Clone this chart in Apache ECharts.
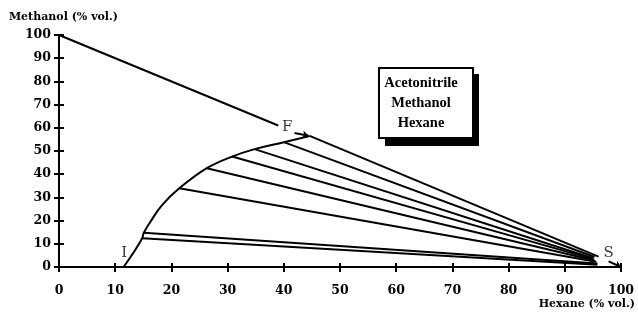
<!DOCTYPE html>
<html><head><meta charset="utf-8">
<script src="https://cdn.jsdelivr.net/npm/echarts@6/dist/echarts.min.js"></script>
<style>html,body{margin:0;padding:0;background:#fff}#c{width:638px;height:312px}</style>
</head><body><div id="c"></div>
<script>
// Tick labels
const xTicks = [0,10,20,30,40,50,60,70,80,90,100];
const yTicks = [0,10,20,30,40,50,60,70,80,90,100];
// Upper edge of the diagram (Methanol-Hexane side), from pure methanol to F
const edgeHexane = [0, 39];
const edgeMethanol = [100, 61];
// Binodal curve (hexane %, methanol %)
const curveHexane   = [11.5, 13.2, 14.8, 15.1, 16.4, 18.3, 21.4, 26.3, 30.8, 34.8, 40.0, 44.6];
const curveMethanol = [0,    6,    12.4, 14.8, 20.0, 26.6, 33.9, 42.6, 47.6, 50.8, 53.8, 56.5];
// Tie lines: start on the curve, end near S
const tieStartHexane   = [14.8, 15.1, 21.4, 26.3, 30.8, 34.8, 40.0, 44.6];
const tieStartMethanol = [12.4, 14.8, 33.9, 42.6, 47.6, 50.8, 53.8, 56.5];
const tieEndHexane     = [95.8, 95.8, 95.6, 95.3, 95.2, 95.0, 95.3, 96.0];
const tieEndMethanol   = [1.0,  1.5,  2.3,  2.8,  3.3,  3.8,  4.3,  4.5];
// Arrows pointing at F and S
const arrowFromHexane = [41.9, 97.8];
const arrowFromMethanol = [57.8, 2.4];
const arrowToHexane = [44.4, 100];
const arrowToMethanol = [56.6, 0];
// Point labels
const pointNames = ['I', 'F', 'S'];
const pointHexane = [11.6, 40.6, 97.8];
const pointMethanol = [6.0, 60.3, 6.0];
const boxLines = ['Acetonitrile', 'Methanol', 'Hexane'];

const serif = '"DejaVu Serif", "Liberation Serif", serif';
const serif2 = '"Liberation Serif", "DejaVu Serif", serif';
const black = '#000';
const lineStyle = {color: black, width: 2};

const series = [];
series.push({type:'line', data: edgeHexane.map((x,i)=>[x, edgeMethanol[i]]), symbol:'none', lineStyle, silent:true});
series.push({type:'line', data: curveHexane.map((x,i)=>[x, curveMethanol[i]]), symbol:'none', smooth:0.4, lineStyle, silent:true});
tieStartHexane.forEach((x,i)=>{
  series.push({type:'line', data:[[x, tieStartMethanol[i]],[tieEndHexane[i], tieEndMethanol[i]]], symbol:'none', lineStyle:{color:black,width:2}, silent:true});
});
series.push({type:'lines', coordinateSystem:'cartesian2d', symbol:['none','arrow'], symbolSize:6,
  lineStyle:{color:black, width:2, opacity:1},
  data: arrowFromHexane.map((x,i)=>({coords:[[x, arrowFromMethanol[i]],[arrowToHexane[i], arrowToMethanol[i]]]})), silent:true});
series.push({type:'scatter', symbolSize:0, silent:true,
  data: pointNames.map((n,i)=>({value:[pointHexane[i], pointMethanol[i]], name:n})),
  label:{show:true, position:'inside', formatter:p=>p.name, fontFamily:serif, fontSize:15, color:black,
    fontWeight: 'normal'}});

const axisCommon = {min:0, max:100, interval:10, splitLine:{show:false}};
const chart = echarts.init(document.getElementById('c'), null, {renderer:'canvas'});
chart.setOption({
  animation:false,
  backgroundColor:'#fff',
  grid:{left:59, right:10, top:35, bottom:45, containLabel:false},
  xAxis:[
    Object.assign({type:'value', position:'bottom',
      name:'Hexane (% vol.)', nameLocation:'end', nameGap:14,
      nameTextStyle:{fontFamily:serif, fontWeight:'bold', fontSize:11, color:black, align:'right', verticalAlign:'top', padding:[32,0,0,0]},
      axisLine:{show:true, lineStyle:{color:black, width:2}},
      axisTick:{show:true, length:5, lineStyle:{color:black, width:2}},
      axisLabel:{margin:17, fontFamily:serif, fontWeight:'bold', fontSize:12.5, color:black,
        formatter:v=>xTicks.includes(v)?String(v):''}
    }, axisCommon),
    Object.assign({type:'value', position:'bottom', axisLine:{show:false},
      axisTick:{show:true, inside:true, length:4, lineStyle:{color:black, width:2}}, axisLabel:{show:false}}, axisCommon)
  ],
  yAxis:[
    Object.assign({type:'value', position:'left',
      name:'Methanol (% vol.)', nameLocation:'end', nameGap:12,
      nameTextStyle:{fontFamily:serif, fontWeight:'bold', fontSize:11, color:black, align:'center', padding:[0,0,0,9]},
      axisLine:{show:true, lineStyle:{color:black, width:2}},
      axisTick:{show:true, length:5, lineStyle:{color:black, width:2}},
      axisLabel:{margin:8, fontFamily:serif, fontWeight:'bold', fontSize:12.5, color:black,
        formatter:v=>yTicks.includes(v)?String(v):''}
    }, axisCommon),
    Object.assign({type:'value', position:'left', axisLine:{show:false},
      axisTick:{show:true, inside:true, length:5, lineStyle:{color:black, width:2}}, axisLabel:{show:false}}, axisCommon)
  ],
  series: series,
  graphic:[
    {type:'rect', left:385, top:74, shape:{width:94, height:72}, style:{fill:black}, silent:true},
    {type:'rect', left:378, top:67, shape:{width:94, height:70}, style:{fill:'#fff', stroke:black, lineWidth:2}, silent:true},
    ...boxLines.map((t,i)=>({type:'text', x:421, y:83+i*20, style:{text:t, font:'bold 14.5px "Liberation Serif", "DejaVu Serif", serif', fill:black, align:'center', verticalAlign:'middle'}, silent:true}))
  ]
});
</script></body></html>
